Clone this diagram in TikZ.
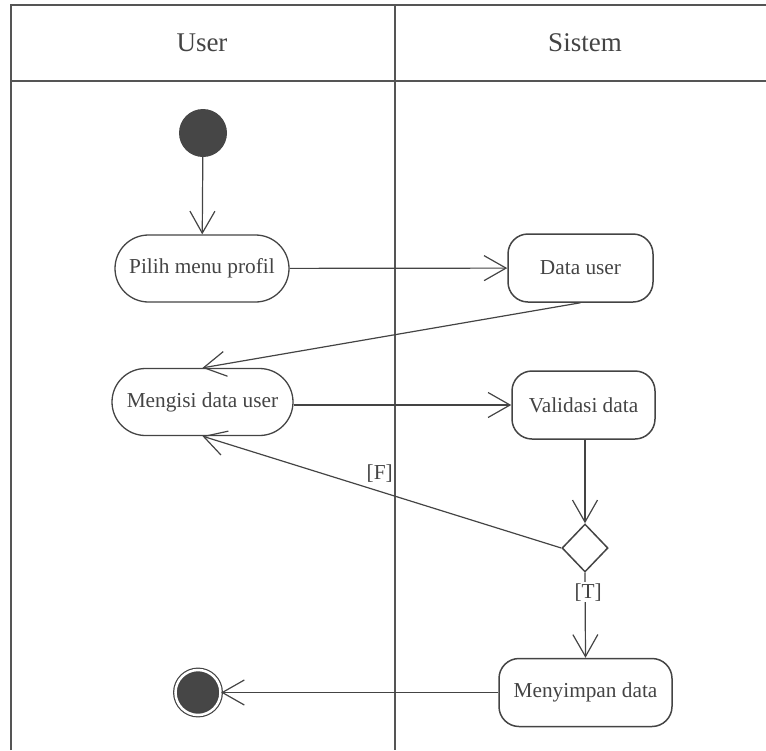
\documentclass[tikz,border=0pt]{standalone}
\usepackage{fontspec}
\setmainfont{Liberation Serif}
\usetikzlibrary{arrows.meta,shapes.geometric,shapes.misc}
\definecolor{ink}{HTML}{444444}
\definecolor{lanecol}{HTML}{555555}
\definecolor{dotcol}{HTML}{464646}
\tikzset{
  lane/.style={draw=lanecol, line width=2pt},
  headtxt/.style={font=\fontsize{27}{32}\selectfont, text=ink},
  stadium/.style={draw=ink, line width=1.3pt, rounded rectangle, minimum height=67pt, inner sep=0pt, font=\fontsize{21.3}{25}\selectfont, text=ink},
  actbox/.style={draw=ink, line width=1.5pt, rectangle, rounded corners=20pt, minimum height=68pt, inner sep=0pt, font=\fontsize{21.3}{25}\selectfont, text=ink},
  decide/.style={draw=ink, line width=1.5pt, diamond, minimum width=46pt, minimum height=48pt, inner sep=0pt},
  startdot/.style={circle, fill=dotcol, minimum size=48pt, inner sep=0pt},
  enddot/.style={circle, fill=dotcol, draw=ink, line width=1.2pt, double=white, double distance=2.5pt, minimum size=45pt, inner sep=0pt},
  flow/.style={draw=ink, line width=1.2pt, -{Straight Barb[length=22pt,width=25pt,line width=1.2pt]}},
  guard/.style={font=\fontsize{21.3}{25}\selectfont, text=ink, inner sep=1pt},
}
\begin{document}
\begin{tikzpicture}[x=1pt,y=-1pt]
\useasboundingbox (0,0) rectangle (766,750);
% swimlane frame
\coordinate (tl) at (10.5,5);
\coordinate (tr) at (766,5);
\coordinate (bl) at (10.5,750);
\coordinate (hl) at (10.5,81);
\coordinate (hr) at (766,81);
\coordinate (dt) at (395,5);
\coordinate (db) at (395,750);
\draw[lane] (bl) -- (tl) -- (tr);
\draw[lane] (hl) -- (hr);
\draw[lane] (dt) -- (db);
\node[headtxt] (huser) at (202,43) {User};
\node[headtxt] (hsys) at (585,43) {Sistem};
% nodes
\node[startdot] (start) at (203,133) {};
\node[stadium, minimum width=174pt] (pilih) at (202,268.5) {Pilih menu profil};
\node[actbox, minimum width=145pt] (datauser) at (580.5,268) {Data user};
\node[stadium, minimum width=181pt] (mengisi) at (202.5,402) {Mengisi data user};
\node[actbox, minimum width=143pt] (validasi) at (583.5,405) {Validasi data};
\node[decide] (dec) at (585,548) {};
\node[actbox, minimum width=173pt] (simpan) at (585.5,692.5) {Menyimpan data};
\node[enddot] (end) at (198,692.5) {};
% connectors
\draw[flow] (start) -- (pilih);
\draw[flow] (pilih) -- (datauser);
\draw[flow] (datauser.south) -- (mengisi.north);
\draw[flow] (mengisi.east |- validasi.west) -- (validasi.west);
\draw[flow] (validasi.south -| dec.north) -- (dec.north);
\draw[flow] (dec.west) -- node[guard, pos=0.506, yshift=18pt] (flab) {[F]} (mengisi.south);
\draw[flow] (dec.south) -- node[guard, pos=0.23, fill=white, xshift=3pt] (tlab) {[T]} (simpan.north);
\draw[flow] (simpan.west) -- (end);
\end{tikzpicture}
\end{document}
